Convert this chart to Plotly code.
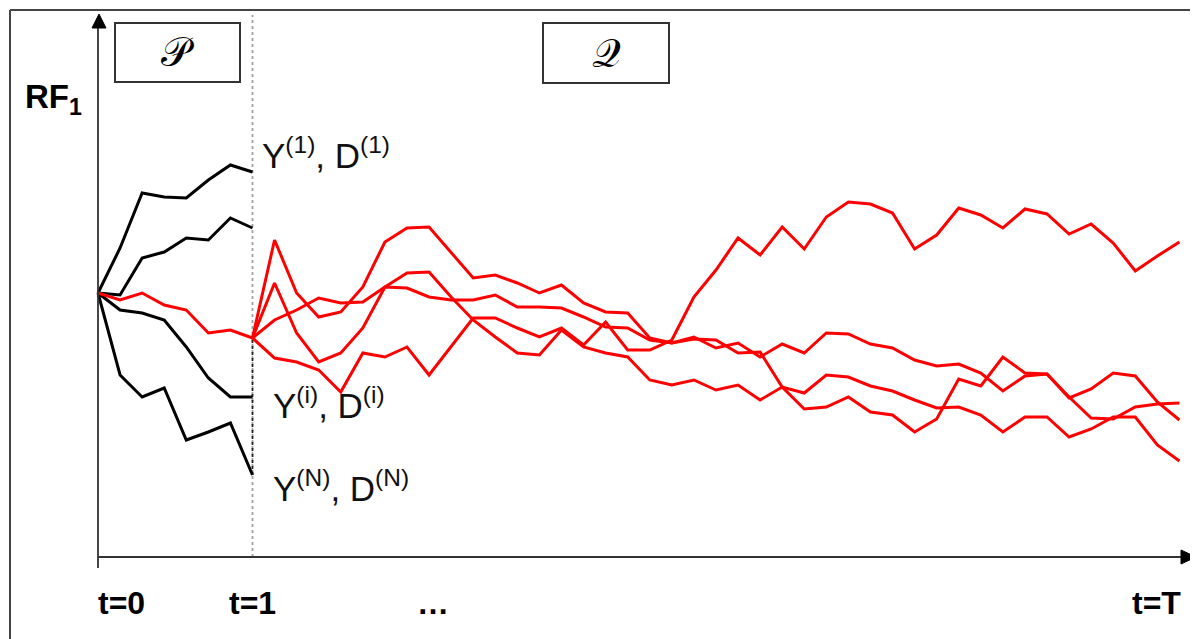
import plotly.graph_objects as go

W, H = 1198, 639

# ---------------- data (RF1 level, arbitrary units; t in simulation steps) ----------------
STEPS_P = list(range(0, 8))        # t=0 .. t=1
STEPS_Q = list(range(7, 50))       # t=1 .. t=T

black_Y1 = [264, 309, 364, 360, 359, 377, 392, 385]
black_Y2 = [264, 262, 299, 305, 319, 317, 339, 329]
black_Yi = [264, 247, 244, 237, 210, 179, 160, 160]
black_YN = [264, 182, 160, 169, 117, 125, 134, 82]
red_P = [264, 257, 264, 252, 247, 224, 227, 219]

red_Q1 = [219, 317, 264, 240, 245, 270, 315, 329, 330, 305, 279, 282, 274, 264, 272, 254,
          245, 244, 219, 214, 218, 217, 204, 205, 170, 148, 150, 160, 145, 142, 125, 138,
          178, 171, 200, 184, 183, 160, 139, 138, 150, 153, 154]
red_Q2 = [219, 274, 224, 195, 204, 229, 270, 284, 285, 260, 237, 220, 204, 202, 227, 210,
          204, 200, 177, 172, 177, 167, 172, 157, 170, 164, 182, 180, 171, 166, 157, 149,
          150, 142, 125, 140, 140, 120, 128, 140, 140, 112, 96]
red_Q3 = [219, 237, 247, 259, 254, 255, 270, 269, 260, 257, 257, 262, 250, 250, 249, 240,
          230, 229, 217, 214, 220, 209, 214, 200, 213, 204, 224, 223, 213, 209, 197, 191,
          193, 184, 166, 181, 183, 159, 168, 184, 181, 155, 137]
red_Q4 = [219, 199, 195, 187, 165, 204, 200, 210, 182, 210, 239, 239, 229, 220, 229, 212,
          235, 207, 207, 217, 260, 287, 319, 302, 330, 308, 340, 355, 353, 344, 308, 322,
          349, 342, 329, 348, 343, 323, 333, 314, 286, 301, 315]

black_paths = [black_Y1, black_Y2, black_Yi, black_YN]
red_paths = [red_Q1, red_Q2, red_Q3, red_Q4]

tick_labels = ["t=0", "t=1", "\u2026", "t=T"]
path_labels = ["Y<sup>(1)</sup>, D<sup>(1)</sup>",
               "Y<sup>(i)</sup>, D<sup>(i)</sup>",
               "Y<sup>(N)</sup>, D<sup>(N)</sup>"]
measure_labels = ["\U0001D4AB", "\U0001D4AC"]

# ---------------- figure ----------------
fig = go.Figure()
for p in black_paths:
    fig.add_trace(go.Scatter(x=STEPS_P, y=p, mode="lines",
                             line=dict(color="black", width=3), hoverinfo="skip"))
fig.add_trace(go.Scatter(x=STEPS_P, y=red_P, mode="lines",
                         line=dict(color="#ff0000", width=3), hoverinfo="skip"))
for p in red_paths:
    fig.add_trace(go.Scatter(x=STEPS_Q, y=p, mode="lines",
                             line=dict(color="#ff0000", width=3), hoverinfo="skip"))

OFF = 8          # page body margin
DX = 22.07       # px per step
X0PX = 98.0      # window px of t=0
Y0PX = 557.0     # window px of the time axis
xr = [-(X0PX - OFF) / DX, (W - (X0PX - OFF)) / DX]
yr = [(Y0PX - OFF) - H, Y0PX - OFF]


def px(x):
    return (x - OFF) / W


def py(y):
    return 1 - (y - OFF) / H


shapes = []
# frame (left and top edges visible)
shapes.append(dict(type="line", xref="paper", yref="paper", x0=px(10), x1=px(10),
                   y0=py(10), y1=py(660), line=dict(color="#444", width=2)))
shapes.append(dict(type="line", xref="paper", yref="paper", x0=px(10), x1=px(1215),
                   y0=py(10), y1=py(10), line=dict(color="#444", width=2)))
# dotted line at t=1
shapes.append(dict(type="line", xref="x", yref="y", x0=7, x1=7, y0=0, y1=Y0PX - 15,
                   line=dict(color="#a0a0a0", width=1.8, dash="dot"), layer="below"))
shapes.append(dict(type="line", xref="x", yref="y", x0=7, x1=7, y0=82, y1=219,
                   line=dict(color="#222", width=1.8, dash="dot"), layer="below"))
# axes
shapes.append(dict(type="line", xref="paper", yref="paper", x0=px(98), x1=px(1184),
                   y0=py(557), y1=py(557), line=dict(color="#333", width=1.8)))
shapes.append(dict(type="line", xref="paper", yref="paper", x0=px(98), x1=px(98),
                   y0=py(568), y1=py(27), line=dict(color="#333", width=1.8)))
# arrow heads
shapes.append(dict(type="path", xref="paper", yref="paper",
                   path=f"M {px(92)} {py(28)} L {px(99)} {py(14)} L {px(106)} {py(28)} Z",
                   fillcolor="black", line=dict(color="black", width=1)))
shapes.append(dict(type="path", xref="paper", yref="paper",
                   path=f"M {px(1181)} {py(550)} L {px(1196)} {py(557)} L {px(1181)} {py(564)} Z",
                   fillcolor="black", line=dict(color="black", width=1)))
# P and Q boxes
shapes.append(dict(type="rect", xref="paper", yref="paper", x0=px(115), y0=py(23),
                   x1=px(240), y1=py(82), line=dict(color="#333", width=2)))
shapes.append(dict(type="rect", xref="paper", yref="paper", x0=px(543), y0=py(23),
                   x1=px(669), y1=py(83), line=dict(color="#333", width=2)))

ann = []


def label(text, x, y, size, xa="center", ya="middle", color="black"):
    ann.append(dict(text=text, x=px(x), y=py(y), xref="paper", yref="paper",
                    xanchor=xa, yanchor=ya, showarrow=False,
                    font=dict(size=size, color=color, family="Liberation Sans")))


ann.append(dict(text=measure_labels[0], x=px(178), y=py(52), xref="paper", yref="paper",
                xanchor="center", yanchor="middle", showarrow=False,
                font=dict(size=40, color="black", family="DejaVu Serif")))
ann.append(dict(text=measure_labels[1], x=px(606), y=py(53), xref="paper", yref="paper",
                xanchor="center", yanchor="middle", showarrow=False,
                font=dict(size=40, color="black", family="DejaVu Serif")))
label("<b>RF<sub>1</sub></b>", 23, 76, 33, xa="left", ya="top")
for lab, (lx, ly) in zip(path_labels, [(260, 153), (271, 403), (271, 486)]):
    label(lab, lx, ly, 35, xa="left", color="#111")
for lab, cx in zip(tick_labels, [121, 252, 433, 1156]):
    label(f"<b>{lab}</b>", cx, 603, 32)

fig.update_layout(
    width=W, height=H, margin=dict(l=0, r=0, t=0, b=0),
    paper_bgcolor="white", plot_bgcolor="white", showlegend=False,
    xaxis=dict(range=xr, visible=False, fixedrange=True),
    yaxis=dict(range=yr, visible=False, fixedrange=True),
    shapes=shapes, annotations=ann,
)
fig.write_html("out.html")
